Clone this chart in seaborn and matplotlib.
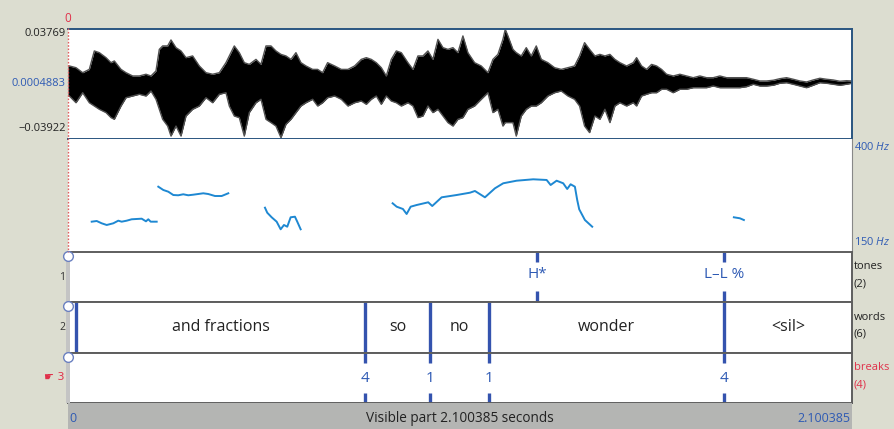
import numpy as np
import pandas as pd
import matplotlib
matplotlib.use("Agg")
import matplotlib.pyplot as plt
from matplotlib.lines import Line2D
from matplotlib.patches import Rectangle
import seaborn as sns

DURATION = 2.100385

# ---------------- waveform envelope (seconds, amplitude x 1e-3) ----------------
wave_time = [0.0000, 0.0036, 0.0214, 0.0393, 0.0571, 0.0705, 0.0839, 0.1018, 0.1152, 0.1241,
             0.1420, 0.1554, 0.1732, 0.1911, 0.2089, 0.2223, 0.2357, 0.2446, 0.2536, 0.2670,
             0.2759, 0.2893, 0.3027, 0.3161, 0.3339, 0.3518, 0.3696, 0.3875, 0.4054, 0.4232,
             0.4321, 0.4455, 0.4589, 0.4723, 0.4857, 0.5036, 0.5170, 0.5304, 0.5438, 0.5571,
             0.5705, 0.5839, 0.5973, 0.6107, 0.6241, 0.6375, 0.6554, 0.6688, 0.6821, 0.6955,
             0.7143, 0.7321, 0.7500, 0.7679, 0.7857, 0.7991, 0.8125, 0.8259, 0.8393, 0.8527,
             0.8661, 0.8795, 0.8929, 0.9107, 0.9241, 0.9375, 0.9509, 0.9643, 0.9777, 0.9911,
             1.0045, 1.0179, 1.0313, 1.0446, 1.0580, 1.0714, 1.0893, 1.1071, 1.1250, 1.1384,
             1.1518, 1.1652, 1.1714, 1.1786, 1.1920, 1.2009, 1.2143, 1.2277, 1.2411, 1.2545,
             1.2679, 1.2857, 1.3036, 1.3214, 1.3393, 1.3571, 1.3705, 1.3839, 1.3973, 1.4116,
             1.4250, 1.4384, 1.4518, 1.4652, 1.4786, 1.4964, 1.5143, 1.5232, 1.5366, 1.5500,
             1.5634, 1.5768, 1.5902, 1.6036, 1.6214, 1.6393, 1.6571, 1.6750, 1.6929, 1.7107,
             1.7286, 1.7464, 1.7643, 1.7821, 1.8000, 1.8179, 1.8357, 1.8536, 1.8714, 1.8893,
             1.9071, 1.9250, 1.9429, 1.9607, 1.9786, 1.9964, 2.0143, 2.0321, 2.0500, 2.0679,
             2.0857, 2.1000]
wave_upper_milli = [11.5, 11.5, 10.3, 6.8, 9.1, 22.0, 20.8, 17.3, 13.8, 15.0,
                    9.1, 6.8, 4.5, 4.5, 5.7, 4.5, 8.0, 23.1, 25.5, 25.5,
                    29.7, 24.3, 22.0, 17.3, 18.5, 11.5, 6.8, 5.7, 6.8, 13.8,
                    18.5, 25.5, 20.8, 13.8, 12.6, 16.1, 12.6, 25.5, 25.5, 22.0,
                    19.6, 18.5, 16.1, 20.8, 13.8, 11.5, 9.1, 9.1, 6.8, 13.8,
                    11.5, 9.1, 9.1, 11.5, 16.1, 17.3, 16.1, 13.8, 10.3, 4.5,
                    16.1, 22.0, 20.8, 13.8, 9.1, 18.5, 18.5, 22.0, 16.1, 30.1,
                    24.3, 23.1, 24.3, 20.8, 32.5, 20.8, 13.8, 11.5, 6.8, 16.1,
                    19.6, 30.1, 37.1, 32.5, 23.1, 20.8, 18.5, 24.3, 18.5, 25.5,
                    16.1, 13.8, 10.3, 9.1, 10.3, 11.5, 18.5, 27.8, 23.1, 18.5,
                    19.6, 18.5, 19.6, 16.1, 13.8, 11.5, 13.8, 17.3, 11.5, 9.1,
                    12.6, 11.5, 9.1, 5.7, 4.5, 5.7, 4.5, 3.3, 4.5, 3.3,
                    3.3, 4.5, 3.3, 3.3, 3.3, 3.3, 2.2, 1.0, 1.0, 1.5,
                    2.6, 3.3, 2.2, 1.0, 0.3, 1.7, 2.9, 2.2, 1.7, 0.8,
                    1.2, 1.0]
wave_lower_milli = [-9.5, -9.5, -14.2, -7.2, -14.2, -16.5, -18.8, -21.1, -24.6, -25.8,
                    -16.5, -10.7, -9.5, -8.3, -9.5, -6.0, -11.8, -18.8, -25.8, -30.5,
                    -37.5, -30.5, -37.5, -23.5, -18.8, -16.5, -10.7, -14.2, -8.3, -7.2,
                    -16.5, -23.5, -24.6, -37.5, -21.1, -14.2, -11.8, -25.8, -28.1, -30.5,
                    -38.6, -29.3, -25.8, -21.1, -16.5, -14.2, -11.8, -16.5, -14.2, -10.7,
                    -9.5, -11.8, -16.5, -14.2, -13.0, -15.3, -11.8, -9.5, -15.3, -9.5,
                    -13.0, -14.2, -16.5, -14.2, -16.5, -24.6, -23.5, -16.5, -21.1, -18.8,
                    -23.5, -28.1, -30.5, -25.8, -24.6, -18.8, -16.5, -11.8, -7.2, -21.1,
                    -18.8, -30.5, -28.1, -28.1, -28.1, -37.5, -23.5, -18.8, -16.5, -16.5,
                    -14.2, -9.5, -7.2, -6.0, -9.5, -11.8, -16.5, -30.5, -35.1, -23.5,
                    -25.8, -18.8, -28.1, -16.5, -14.2, -16.5, -14.2, -16.5, -9.5, -8.3,
                    -7.2, -7.2, -4.8, -4.8, -7.2, -4.8, -4.8, -3.7, -3.7, -3.7,
                    -2.5, -3.7, -3.7, -3.7, -3.7, -3.0, -1.3, -2.5, -2.5, -2.0,
                    -0.6, -0.2, -1.3, -2.5, -3.7, -2.0, -0.2, -0.6, -1.3, -2.0,
                    -1.3, -0.6]
wave_ymin, wave_ymax = -0.03922, 0.03769

# ---------------- pitch (seconds, Hz) ----------------
pitch_seg1_t = [0.0635, 0.0769, 0.0903, 0.1037, 0.1213, 0.1347, 0.1438, 0.1572, 0.1706,
                0.1974, 0.2089, 0.2151, 0.2215, 0.2285, 0.2376]
pitch_seg1_hz = [216.3, 217.8, 212.7, 209.0, 212.7, 218.5, 216.3, 218.5, 221.6,
                 222.9, 217.1, 221.6, 216.3, 216.3, 216.3]
pitch_seg2_t = [0.2419, 0.2553, 0.2687, 0.2821, 0.2954, 0.3088, 0.3222, 0.3356, 0.3624,
                0.3758, 0.3938, 0.4117, 0.4294]
pitch_seg2_hz = [293.6, 286.3, 282.5, 275.2, 274.6, 276.8, 274.6, 275.9, 279.0,
                 277.4, 273.0, 273.0, 279.0]
pitch_seg3_t = [0.5277, 0.5338, 0.5456, 0.5590, 0.5697, 0.5786, 0.5874, 0.5965, 0.6080,
                0.6142, 0.6233]
pitch_seg3_hz = [247.2, 236.1, 226.0, 216.3, 199.5, 209.0, 205.2, 226.0, 227.3,
                 216.3, 199.5]
pitch_seg4_t = [0.8697, 0.8805, 0.8973, 0.9072, 0.9180, 0.9340, 0.9651, 0.9758, 1.0010,
                1.0412, 1.0768, 1.0902, 1.1170, 1.1438, 1.1660, 1.2019, 1.2464, 1.2823,
                1.2930, 1.3090, 1.3267, 1.3374, 1.3465, 1.3580, 1.3642, 1.3696, 1.3848,
                1.4044]
pitch_seg4_hz = [256.9, 249.4, 244.3, 233.3, 249.4, 253.1, 259.1, 250.9, 270.1,
                 275.2, 280.3, 284.1, 270.1, 290.0, 301.1, 306.8, 309.9, 308.4,
                 297.3, 306.8, 301.1, 288.5, 298.9, 293.6, 264.2, 243.6, 220.0,
                 205.2]
pitch_seg5_t = [1.7839, 1.8000, 1.8107]
pitch_seg5_hz = [226.0, 223.8, 220.0]
pitch_min, pitch_max = 150, 400

# ---------------- TextGrid tiers ----------------
tone_times = [1.2563, 1.7572]
tone_labels = ["H*", "L–L %"]
word_bounds = [0.0214, 0.7955, 0.9697, 1.1277, 1.7572]
word_labels = ["", "and fractions", "so", "no", "wonder", "<sil>"]
break_times = [0.7955, 0.9697, 1.1277, 1.7572]
break_labels = ["4", "1", "1", "4"]
tier_names = ["tones", "words", "breaks"]
tier_counts = ["(2)", "(6)", "(4)"]

# ---------------- styling ----------------
BG = "#DCDDD0"
BLUE_TXT = "#2E5AB4"
BLUE_LINE = "#3453AE"
PITCH_COL = "#1E88D2"
RED = "#E0304A"
GRID_GRAY = "#5E5E5E"

plt.rcParams["font.family"] = ["Open Sans", "DejaVu Sans"]
plt.rcParams["mathtext.fontset"] = "custom"
plt.rcParams["mathtext.it"] = "Open Sans:italic"
plt.rcParams["mathtext.rm"] = "Open Sans"

W, H = 894, 429
fig = plt.figure(figsize=(W / 100, H / 100), dpi=100, facecolor=BG)


def px_axes(x0, y0, x1, y1):
    return fig.add_axes([x0 / W, 1 - y1 / H, (x1 - x0) / W, (y1 - y0) / H])


def fx(x):
    return x / W


def fy(y):
    return 1 - y / H


X0, X1 = 68, 852
ax_wave = px_axes(X0, 28.5, X1, 138.5)
ax_pitch = px_axes(X0, 138.5, X1, 251.7)
ax_tone = px_axes(X0, 251.7, X1, 302)
ax_word = px_axes(X0, 302, X1, 352.7)
ax_brk = px_axes(X0, 352.7, X1, 403.3)
ax_bar = px_axes(X0, 403.3, X1, 429)

for ax in [ax_wave, ax_pitch, ax_tone, ax_word, ax_brk, ax_bar]:
    ax.set_xlim(0, DURATION)
    ax.set_xticks([])
    ax.set_yticks([])
    ax.set_facecolor("white")
    for s in ax.spines.values():
        s.set_visible(False)

# ---- waveform ----
wt = np.array(wave_time)
wu = np.array(wave_upper_milli) * 1e-3
wl = np.array(wave_lower_milli) * 1e-3
ax_wave.fill_between(wt, wl, wu, color="black", lw=0)
ax_wave.plot(wt, wu, color="#505050", lw=1.0)
ax_wave.plot(wt, wl, color="#505050", lw=1.0)
ax_wave.set_ylim(wave_ymin, wave_ymax)
for s in ax_wave.spines.values():
    s.set_visible(True)
    s.set_color("#2A5580")
    s.set_linewidth(1.4)
ax_wave.spines["left"].set_visible(False)

# ---- pitch ----
segs = [(pitch_seg1_t, pitch_seg1_hz), (pitch_seg2_t, pitch_seg2_hz), (pitch_seg3_t, pitch_seg3_hz),
        (pitch_seg4_t, pitch_seg4_hz), (pitch_seg5_t, pitch_seg5_hz)]
pitch_df = pd.concat([pd.DataFrame({"time": t, "f0": f, "seg": i}) for i, (t, f) in enumerate(segs)],
                     ignore_index=True)
sns.lineplot(data=pitch_df, x="time", y="f0", units="seg", estimator=None, sort=False,
             color=PITCH_COL, lw=1.4, ax=ax_pitch)
ax_pitch.set_ylim(pitch_min, pitch_max)
ax_pitch.set_xlabel("")
ax_pitch.set_ylabel("")
ax_pitch.spines["right"].set_visible(True)
ax_pitch.spines["right"].set_color("#888888")

# ---- tiers ----
for ax in [ax_tone, ax_word, ax_brk]:
    ax.set_ylim(0, 1)
    for side in ["top", "bottom", "right"]:
        ax.spines[side].set_visible(True)
        ax.spines[side].set_color(GRID_GRAY)
        ax.spines[side].set_linewidth(1.4)

# point tiers
SEG = 0.21
ax_tone.vlines(tone_times, 1 - SEG, 1, color=BLUE_LINE, lw=2.4)
ax_tone.vlines(tone_times, 0, SEG, color=BLUE_LINE, lw=2.4)
for t, lab in zip(tone_times, tone_labels):
    ax_tone.text(t, 0.55, lab, ha="center", va="center", color=BLUE_TXT, fontsize=11)

ax_brk.vlines(break_times, 1 - SEG, 1, color=BLUE_LINE, lw=2.4)
ax_brk.vlines(break_times, 0, SEG, color=BLUE_LINE, lw=2.4)
for t, lab in zip(break_times, break_labels):
    ax_brk.text(t, 0.5, lab, ha="center", va="center", color=BLUE_TXT, fontsize=11)

# interval tier
ax_word.vlines(word_bounds, 0, 1, color=BLUE_LINE, lw=2.4)
edges = [0.0] + word_bounds + [DURATION]
for i, lab in enumerate(word_labels):
    mid = (edges[i] + edges[i + 1]) / 2
    ax_word.text(mid, 0.5, lab, ha="center", va="center", color="#222222", fontsize=11.5)

# ---- bottom bar ----
ax_bar.set_facecolor("#B4B5B3")
ax_bar.set_ylim(0, 1)
ax_bar.text(DURATION / 2, 0.42, f"Visible part {DURATION} seconds", ha="center", va="center",
            color="#222222", fontsize=9.8)
ax_bar.text(0.004, 0.42, "0", ha="left", va="center", color=BLUE_TXT, fontsize=9)
ax_bar.text(DURATION - 0.004, 0.42, f"{DURATION}", ha="right", va="center", color=BLUE_TXT, fontsize=9)

# ---- left gutter, circles, cursor ----
fig.add_artist(Rectangle((fx(66), fy(403.3)), fx(4), (403.3 - 251.7) / H, transform=fig.transFigure,
                         facecolor="#C4C4C4", edgecolor="none"))
for yc in [255.7, 306, 356.7]:
    fig.add_artist(Line2D([fx(68)], [fy(yc)], marker="o", markersize=7, mfc="white", mec="#6A80C0",
                          mew=1.0, transform=fig.transFigure))
fig.add_artist(Line2D([fx(68), fx(68)], [fy(28), fy(251.7)], color="#E06060", lw=1.0,
                      linestyle=(0, (1.2, 1.2)), transform=fig.transFigure))
fig.text(fx(68), fy(18), "0", ha="center", va="center", color=RED, fontsize=8.5)

# tier numbers
fig.text(fx(65), fy(277), "1", ha="right", va="center", color="#333333", fontsize=7.5)
fig.text(fx(65), fy(327.5), "2", ha="right", va="center", color="#333333", fontsize=7.5)
fig.text(fx(65), fy(377), "☛ 3", ha="right", va="center", color=RED, fontsize=8,
         family=["DejaVu Sans"])

# waveform labels
fig.text(fx(66), fy(34), "0.03769", ha="right", va="center", color="#222222", fontsize=8)
fig.text(fx(66), fy(83), "0.0004883", ha="right", va="center", color=BLUE_TXT, fontsize=8)
fig.text(fx(66), fy(129), "−0.03922", ha="right", va="center", color="#222222", fontsize=8)

# right labels
fig.text(fx(854), fy(147), r"400 $\it{Hz}$", ha="left", va="center", color=BLUE_TXT, fontsize=8)
fig.text(fx(854), fy(242), r"150 $\it{Hz}$", ha="left", va="center", color=BLUE_TXT, fontsize=8)
tier_tops = [251.7, 302, 352.7]
for top, name, cnt in zip(tier_tops, tier_names, tier_counts):
    col = RED if name == "breaks" else "#222222"
    fig.text(fx(854), fy(top + 15), name, ha="left", va="center", color=col, fontsize=8)
    fig.text(fx(854), fy(top + 32), cnt, ha="left", va="center", color=col, fontsize=8)

fig.savefig("out.png", dpi=100, facecolor=BG)
